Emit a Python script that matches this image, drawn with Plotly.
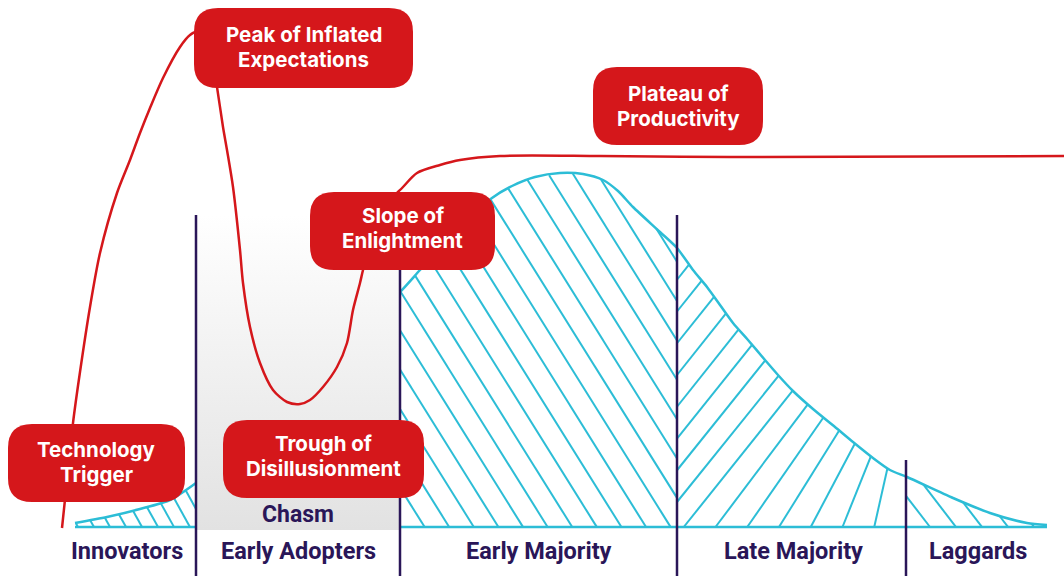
import numpy as np
import plotly.graph_objects as go

# ---------------- data ----------------
# Diffusion of innovation curve: horizontal position and depth measured from the top
bell_x = [75, 107, 140, 170, 196, 250, 300, 350, 400, 420, 445, 470, 492, 512, 535, 560, 583,
          603, 618, 633, 660, 677, 693, 707, 720, 733, 748, 765, 778, 793, 813, 835, 853, 873,
          890, 907, 953, 990, 1027, 1047]
bell_y = [523, 517, 509, 500, 483, 440, 390, 337, 292, 270, 243, 218, 198, 186, 177, 173, 174,
          180, 191, 207, 232, 248, 270, 287, 305, 323, 340, 360, 375, 391, 409, 427, 442, 458,
          470, 477, 498, 513, 523, 525]
baseline_depth = 527

# Adopter segments
segment_names = ["Innovators", "Early Adopters", "Early Majority", "Late Majority", "Laggards"]
segment_label_x = [127, 298, 539, 793, 978]
divider_x = [196, 400, 677, 906]
divider_top = [215, 215, 215, 460]
chasm_label = "Chasm"

# Hype cycle curve
hype_x = [62, 66, 73, 80, 90, 100, 117, 130, 140, 150, 163, 180, 190, 196, 205, 212, 217, 223,
          227, 233, 240, 243, 250, 260, 273, 287, 300, 310, 323, 337, 347, 353, 360, 363, 372,
          386, 403, 417, 440, 460, 500, 600, 730, 1064]
hype_y = [528, 490, 423, 372, 307, 253, 193, 160, 133, 108, 78, 47, 35, 32, 38, 58, 87, 127,
          150, 187, 250, 283, 327, 363, 390, 402, 404, 400, 387, 367, 343, 310, 283, 270, 235,
          205, 187, 173, 165, 160, 156, 156, 157, 156]

# Hype cycle phases (two text lines each)
phase_labels = [("Technology", "Trigger"), ("Peak of Inflated", "Expectations"),
                ("Trough of", "Disillusionment"), ("Slope of", "Enlightment"),
                ("Plateau of", "Productivity")]
phase_boxes = [(8, 185, 424, 502), (194, 413, 8, 88), (223, 424, 420, 498),
               (310, 495, 192, 270), (593, 763, 67, 145)]
phase_text_mid = [462, 47, 456, 228, 106]

RED = "#d5171b"
CYAN = "#2cbdd6"
PURPLE = "#2a1658"

# ---------------- helpers ----------------
bx = np.array(bell_x, float)
by = np.array(bell_y, float)


def curve_at(x):
    return np.interp(x, bx, by)


def parallel_hatch(x0, x1, slope, spacing, start, direction):
    """direction +1 -> '\\' lines, -1 -> '/' lines"""
    xs, ys = [], []
    xx = np.linspace(x0, x1, 900)
    cy = curve_at(xx)
    for xb in np.arange(start - 60 * spacing, x1 + 60 * spacing, spacing):
        yy = baseline_depth + direction * slope * (xx - xb)
        inside = (yy >= cy) & (yy <= baseline_depth + 0.01)
        if not inside.any():
            continue
        idx = np.where(inside)[0]
        runs = np.split(idx, np.where(np.diff(idx) > 1)[0] + 1)
        for r in runs:
            if len(r) < 2:
                continue
            xs += [xx[r[0]], xx[r[-1]], None]
            ys += [yy[r[0]], yy[r[-1]], None]
    return xs, ys


def resample(px, py, n):
    px = np.asarray(px, float)
    py = np.asarray(py, float)
    d = np.hypot(np.diff(px), np.diff(py))
    s = np.concatenate([[0], np.cumsum(d)])
    t = np.linspace(0, s[-1], n)
    return np.interp(t, s, px), np.interp(t, s, py)


def fan_hatch(x0, x1, n):
    ax = np.linspace(x0, x1, 300)
    ay = curve_at(ax)
    ax, ay = resample(ax, ay, n)
    bxs, bys = resample([x0, x0, x1], [curve_at(x0), baseline_depth, baseline_depth], n)
    xs, ys = [], []
    for i in range(1, n - 1):
        xs += [bxs[i], ax[i], None]
        ys += [bys[i], ay[i], None]
    return xs, ys


def rounded_box(x0, x1, y0, y1, r):
    return (f"M{x0 + r},{y0} L{x1 - r},{y0} Q{x1},{y0} {x1},{y0 + r} "
            f"L{x1},{y1 - r} Q{x1},{y1} {x1 - r},{y1} L{x0 + r},{y1} "
            f"Q{x0},{y1} {x0},{y1 - r} L{x0},{y0 + r} Q{x0},{y0} {x0 + r},{y0} Z")


fig = go.Figure()

# hatching
hatches = [
    parallel_hatch(bell_x[0], divider_x[0], 1.8, 16, 110, 1),
    parallel_hatch(divider_x[1], divider_x[2], 1.6, 24.6, divider_x[1], 1),
    fan_hatch(divider_x[2], divider_x[3], 17),
    parallel_hatch(divider_x[3], bell_x[-1], 1.3, 26, 930, 1),
]
for hx, hy in hatches:
    fig.add_trace(go.Scatter(x=hx, y=hy, mode="lines",
                             line=dict(color=CYAN, width=2), hoverinfo="skip"))

# bell outline and baseline
fig.add_trace(go.Scatter(x=bell_x, y=bell_y, mode="lines",
                         line=dict(color=CYAN, width=2.5, shape="spline", smoothing=0.7),
                         hoverinfo="skip"))
fig.add_trace(go.Scatter(x=[bell_x[0], bell_x[-1]], y=[baseline_depth, baseline_depth],
                         mode="lines", line=dict(color=CYAN, width=2.5), hoverinfo="skip"))

# chasm
chasm_top, chasm_bottom = 215, 530
fig.add_trace(go.Scatter(
    x=[divider_x[0], divider_x[1], divider_x[1], divider_x[0], divider_x[0]],
    y=[chasm_top, chasm_top, chasm_bottom, chasm_bottom, chasm_top],
    mode="lines", fill="toself", line=dict(width=0),
    fillgradient=dict(type="vertical", start=chasm_top, stop=chasm_bottom,
                      colorscale=[[0, "#ffffff"], [0.3, "#f6f6f6"], [1, "#e2e2e2"]]),
    hoverinfo="skip"))

# dividers
for dx, dt in zip(divider_x, divider_top):
    fig.add_trace(go.Scatter(x=[dx, dx], y=[dt, 576], mode="lines",
                             line=dict(color=PURPLE, width=2.5), hoverinfo="skip"))

# hype curve
fig.add_trace(go.Scatter(x=hype_x, y=hype_y, mode="lines",
                         line=dict(color=RED, width=2.5, shape="spline", smoothing=0.8),
                         hoverinfo="skip"))

shapes = []
annotations = []
for (l1, l2), (x0, x1, y0, y1), mid in zip(phase_labels, phase_boxes, phase_text_mid):
    shapes.append(dict(type="path", path=rounded_box(x0, x1, y0, y1, 24), xref="x", yref="y",
                       fillcolor=RED, line=dict(width=0), layer="above"))
    for txt, ty in ((l1, mid - 12.3), (l2, mid + 12.3)):
        annotations.append(dict(x=(x0 + x1) / 2, y=ty, xref="x", yref="y", text=txt,
                                showarrow=False, align="center",
                                font=dict(family="Inter", size=20.5, color="white",
                                          weight=700)))

for name, lx in zip(segment_names, segment_label_x):
    annotations.append(dict(x=lx, y=551, xref="x", yref="y", text=name, showarrow=False,
                            font=dict(family="Roboto", size=23.5, color=PURPLE, weight=700)))
annotations.append(dict(x=(divider_x[0] + divider_x[1]) / 2, y=514, xref="x", yref="y",
                        text=chasm_label, showarrow=False,
                        font=dict(family="Roboto", size=23, color=PURPLE, weight=700)))

fig.update_layout(
    width=1064, height=576,
    margin=dict(l=0, r=0, t=0, b=0),
    paper_bgcolor="white", plot_bgcolor="white",
    showlegend=False,
    xaxis=dict(range=[0, 1064], visible=False, fixedrange=True),
    yaxis=dict(range=[576, 0], visible=False, fixedrange=True),
    shapes=shapes, annotations=annotations,
)

fig.write_html("out.html", post_script="document.body.style.margin='0';",
               config={"displayModeBar": False})
